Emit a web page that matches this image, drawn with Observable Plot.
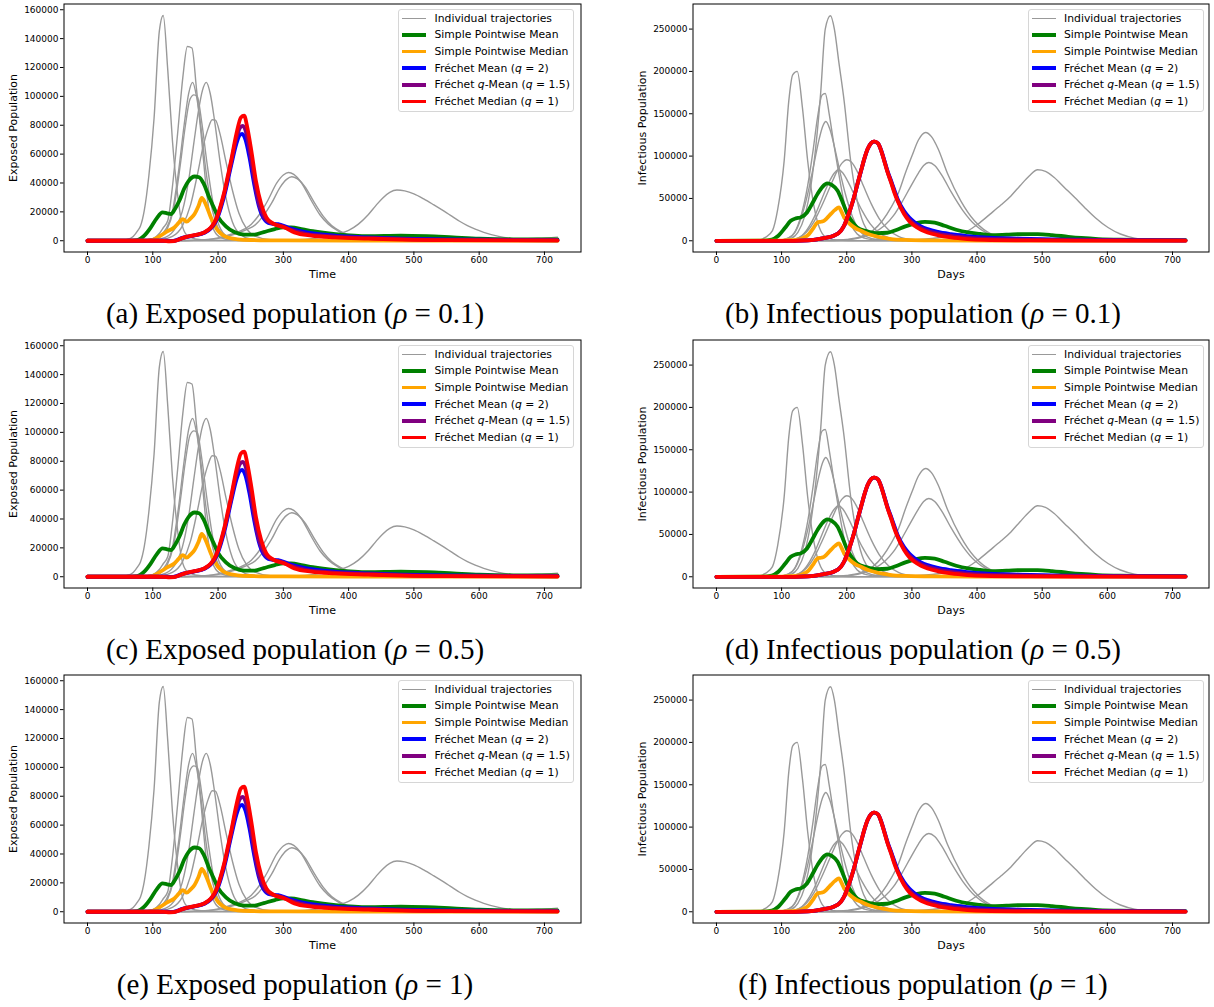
<!DOCTYPE html>
<html><head><meta charset="utf-8">
<script src="https://cdn.jsdelivr.net/npm/d3@7"></script>
<script src="https://cdn.jsdelivr.net/npm/@observablehq/plot@0.6"></script>
<style>
body{margin:0;background:#fff;}
#root{position:relative;width:1214px;height:1007px;overflow:hidden;background:#fff;font-family:"DejaVu Sans",sans-serif;}
#root svg{position:absolute;}
.legend{position:absolute;background:rgba(255,255,255,0.85);border:1px solid #d6d6d6;border-radius:3px;box-sizing:border-box;width:176px;height:103px;padding:0 0 0 3px;font-size:10.8px;color:#000;}
.legend .row{height:16.65px;display:flex;align-items:center;white-space:nowrap;}
.legend .sw{width:24px;margin-right:8.5px;flex:none;}
.caption{position:absolute;font-family:"Liberation Serif",serif;font-size:29px;line-height:29px;transform:translateX(-50%);white-space:nowrap;color:#000;}
</style></head><body><div id="root"></div>
<script>
// ---------- tick labels ----------
const dayTicks = [0, 100, 200, 300, 400, 500, 600, 700];
const exposedTicks = [0, 20000, 40000, 60000, 80000, 100000, 120000, 140000, 160000];
const infectiousTicks = [0, 50000, 100000, 150000, 200000, 250000];

// ---------- legend / captions ----------
const legendLabels = ["Individual trajectories", "Simple Pointwise Mean", "Simple Pointwise Median",
  "Fréchet Mean (<i>q</i> = 2)", "Fréchet <i>q</i>-Mean (<i>q</i> = 1.5)", "Fréchet Median (<i>q</i> = 1)"];
const rhoValues = ["0.1", "0.5", "1"];
const captionLetters = [["a", "b"], ["c", "d"], ["e", "f"]];

// ---------- Exposed population: [day, value] ----------
const exposedIndividual = [
  [[0,0],[50,200],[60,800],[70,3000],[77,7000],[81,10000],[87,21000],[94,45000],[102,85000],[110,145000],[116,156000],[123,118000],[130,70000],[138,32000],[145,11000],[152,4000],[165,1200],[190,300],[260,50],[720,0]],
  [[0,0],[80,300],[100,1500],[110,5000],[116,9000],[123,14000],[130,37000],[138,74000],[146,113000],[153,134500],[160,133500],[167,105000],[174,74000],[184,28000],[194,7000],[205,2000],[220,600],[260,100],[720,0]],
  [[0,0],[90,500],[110,3000],[120,8000],[130,20000],[140,50000],[148,80000],[155,102000],[161,109700],[167,100000],[174,78000],[181,50000],[190,24000],[200,9000],[212,3000],[230,800],[270,100],[720,0]],
  [[0,0],[95,500],[112,3000],[122,8000],[132,22000],[142,52000],[150,80000],[157,98000],[163,101000],[168,100000],[175,82000],[183,54000],[192,27000],[202,10000],[214,3000],[232,700],[270,100],[720,0]],
  [[0,0],[100,400],[120,2500],[135,9000],[145,20000],[155,42000],[163,68000],[170,90000],[176,104000],[182,109700],[188,102000],[195,82000],[203,55000],[212,30000],[222,13000],[235,4000],[250,1200],[280,200],[720,0]],
  [[0,0],[110,500],[130,3000],[145,10000],[158,25000],[168,45000],[177,65000],[185,78000],[191,83800],[196,83500],[203,74000],[212,55000],[222,35000],[232,19000],[244,8000],[258,3000],[280,700],[720,0]],
  [[0,0],[150,200],[180,800],[200,2000],[220,4500],[240,8000],[251,11500],[263,18000],[276,27700],[290,40000],[300,45500],[308,47300],[316,46000],[328,40000],[343,27700],[356,18000],[369,11500],[385,6500],[400,3500],[425,1200],[460,300],[720,0]],
  [[0,0],[155,200],[185,800],[205,2000],[225,4500],[245,8000],[257,11000],[269,17000],[282,26000],[295,37000],[305,42500],[313,44300],[321,43000],[333,37500],[348,26000],[361,17000],[374,10500],[390,6000],[405,3200],[430,1100],[465,300],[720,0]],
  [[0,0],[250,100],[300,400],[340,1300],[370,3200],[385,4800],[400,7200],[415,11500],[430,18000],[442,24500],[452,29500],[463,33500],[474,35100],[486,34500],[500,32500],[515,29000],[530,25000],[545,20800],[558,17000],[570,13500],[582,10500],[594,8000],[607,5800],[630,3000],[656,1300],[685,600],[720,400]],
  [[0,0],[300,100],[500,300],[600,700],[650,1100],[690,1700],[720,2500]]
];
const exposedMean = [[0,0],[60,100],[76,500],[87,3500],[97,9200],[106,15500],[115,19600],[122,19000],[128,18500],[134,22000],[141,28000],[148,36000],[155,41500],[164,44500],[171,44000],[178,39500],[186,30500],[193,23500],[200,16500],[212,10000],[225,6000],[240,4300],[256,4300],[270,6000],[287,8100],[300,9200],[312,9200],[330,7800],[345,6600],[380,4600],[430,3100],[480,3500],[520,3100],[560,2300],[600,1500],[650,1000],[720,900]];
const exposedMedian = [[0,0],[90,100],[100,700],[112,3500],[122,6500],[133,9200],[140,12500],[146,15000],[152,13200],[158,15500],[164,18500],[170,24000],[175,29600],[181,25400],[189,16100],[195,10500],[200,6900],[207,4000],[215,2200],[230,1000],[250,500],[300,200],[400,100],[720,0]];
const exposedFrechetMean = [[0,0],[120,0],[128,-200],[135,200],[145,2000],[164,3700],[179,5500],[189,8500],[195,12000],[200,17000],[210,32000],[220,52000],[228,67000],[233,73000],[237,74000],[242,70000],[248,58000],[255,40000],[262,25000],[270,15500],[280,12000],[292,11500],[307,9200],[328,6500],[379,3500],[430,2300],[482,1500],[550,900],[720,400]];
const exposedFrechetQMean = [[0,0],[120,0],[128,-300],[135,0],[145,1800],[164,3800],[179,5700],[189,9000],[195,12500],[200,18000],[210,33500],[220,54000],[228,71000],[234,78500],[238,79500],[243,75000],[249,61000],[256,41000],[263,25000],[271,16000],[282,12000],[297,10300],[312,7500],[335,4800],[379,2900],[430,1900],[482,1100],[550,600],[720,300]];
const exposedFrechetMedian = [[0,0],[105,0],[117,-150],[126,-400],[133,-300],[140,900],[150,2500],[164,3900],[179,5800],[189,9200],[195,13000],[200,18500],[205,26000],[210,34600],[215,45000],[220,55400],[228,73800],[235,85400],[240,86600],[245,78000],[251,62300],[258,41500],[266,25400],[274,16100],[284,12000],[302,9200],[317,5800],[343,3500],[379,2300],[430,1500],[482,800],[550,400],[720,200]];

// ---------- Infectious population: [day, value] ----------
const infectiousIndividual = [
  [[0,0],[50,200],[65,1000],[75,4000],[86,12000],[94,37000],[104,95000],[111,165000],[117,196000],[124,200000],[132,157000],[140,94500],[150,39400],[160,11800],[170,3500],[185,1000],[220,200],[720,0]],
  [[0,0],[100,500],[115,3000],[125,10000],[135,28000],[145,65000],[153,115000],[160,175000],[167,250000],[175,265700],[181,250000],[188,210000],[196,165000],[206,94500],[216,47200],[226,20000],[236,8000],[250,2500],[270,600],[720,0]],
  [[0,0],[95,500],[110,3000],[120,10000],[130,30000],[140,65000],[148,105000],[155,145000],[162,172000],[167,174000],[173,150000],[180,115000],[188,78000],[196,45000],[206,20000],[216,8000],[230,2500],[250,600],[720,0]],
  [[0,0],[95,500],[110,3000],[122,12000],[132,32000],[142,62000],[150,92000],[157,118000],[163,135000],[168,140900],[174,132000],[182,108000],[190,80000],[198,55000],[208,30000],[218,14000],[230,5000],[250,1200],[720,0]],
  [[0,0],[110,500],[125,3000],[138,10000],[150,23000],[162,42000],[174,63000],[185,82000],[193,92000],[200,95700],[207,93000],[216,82000],[226,64000],[238,43000],[250,26000],[264,13000],[280,5000],[300,1500],[330,300],[720,0]],
  [[0,0],[110,500],[125,3000],[138,12000],[150,28000],[162,50000],[172,68000],[181,80000],[187,83800],[194,80000],[203,68000],[213,52000],[224,35000],[236,20000],[250,9000],[265,3500],[285,1000],[720,0]],
  [[0,0],[180,500],[200,1500],[220,4500],[240,12000],[255,24000],[268,39400],[280,58000],[290,80000],[300,100000],[310,119000],[321,127900],[330,123000],[340,109000],[355,78800],[375,47200],[396,23600],[410,13500],[422,7900],[440,3500],[470,1000],[520,200],[720,0]],
  [[0,0],[180,400],[200,1200],[220,3500],[240,9000],[258,18000],[272,30000],[285,46000],[298,64000],[310,80000],[318,89000],[326,92500],[335,89000],[347,76000],[360,58000],[378,36000],[398,18000],[415,9000],[435,4000],[460,1500],[500,300],[720,0]],
  [[0,0],[250,200],[300,1000],[340,3500],[370,7500],[386,11800],[401,19500],[420,31500],[437,42500],[452,53000],[466,65000],[480,76500],[493,83800],[505,82000],[518,75000],[534,63000],[550,51000],[565,39400],[582,27000],[601,15700],[620,8000],[642,3200],[670,1200],[700,500],[720,300]],
  [[0,0],[300,100],[500,300],[600,600],[660,1000],[700,1500],[720,1800]]
];
const infectiousMean = [[0,0],[70,200],[85,1500],[95,6000],[105,15000],[114,23600],[122,26500],[129,27500],[139,33400],[147,44000],[155,55100],[163,64000],[170,67700],[177,66000],[186,59000],[194,45000],[201,31500],[209,22000],[216,15700],[230,11500],[247,9000],[262,9500],[275,12500],[290,17000],[305,20500],[320,22400],[335,21500],[350,17700],[368,13000],[386,9800],[405,8000],[421,6700],[445,7200],[470,7900],[493,7900],[515,6800],[540,4700],[560,3300],[586,2000],[620,1200],[660,900],[720,700]];
const infectiousMedian = [[0,0],[100,100],[115,700],[129,2000],[136,4500],[142,7900],[148,14000],[155,21600],[160,22500],[165,23600],[170,27000],[176,32000],[182,36500],[188,39400],[192,34000],[196,27500],[206,18900],[214,14500],[222,11800],[232,8300],[242,5900],[255,3600],[268,2000],[290,1000],[330,400],[400,200],[720,100]];
const infectiousFrechetMean = [[0,0],[120,0],[140,500],[152,1500],[165,3200],[180,6000],[191,12000],[196,18000],[201,27500],[206,38500],[211,51000],[216,65500],[222,82500],[227,96500],[232,108000],[237,115000],[242,117000],[248,115000],[253,106500],[258,94000],[263,81500],[268,71000],[273,60000],[278,49500],[288,35000],[296,27500],[304,22000],[314,17000],[324,13800],[340,10500],[360,7900],[385,5500],[411,3900],[440,3000],[463,2400],[500,1800],[550,1200],[620,700],[720,400]];
const infectiousFrechetQMean = [[0,0],[120,0],[140,500],[152,1500],[165,3200],[180,5900],[191,11800],[196,18000],[201,27500],[206,38500],[211,51100],[216,66000],[222,83000],[227,97000],[232,108300],[237,115000],[242,117000],[248,114800],[253,106000],[258,93500],[263,80500],[268,70000],[273,58500],[278,48000],[288,33000],[296,25000],[304,19500],[314,15000],[324,11800],[340,8500],[360,5900],[385,3700],[411,2500],[460,1500],[550,800],[720,300]];
const infectiousFrechetMedian = [[0,0],[120,0],[140,500],[152,1500],[165,3200],[180,5900],[191,11800],[196,18000],[201,27500],[206,38500],[211,51100],[216,66000],[222,83000],[227,97000],[232,108300],[237,115000],[242,117300],[248,115000],[253,106000],[258,93000],[263,80000],[268,69000],[273,57000],[278,47200],[288,31500],[296,23000],[304,17700],[314,13000],[324,9800],[340,6500],[360,3900],[385,2000],[411,1000],[460,500],[550,300],[720,200]];

// ---------- drawing ----------
const colors = ["#999999", "green", "orange", "blue", "purple", "red"];
const root = document.getElementById("root");
const rowTops = [0, 336, 671];

function rows(arr, id) { return arr.map(([t, v]) => ({t, v, id})); }

function makePanel(kind, col, rowTop) {
  const isE = kind === "E";
  const W = col === 0 ? 600 : 607;
  const left = col === 0 ? 0 : 607;
  const indiv = isE ? exposedIndividual : infectiousIndividual;
  const summaries = isE
    ? [exposedMean, exposedMedian, exposedFrechetMean, exposedFrechetQMean, exposedFrechetMedian]
    : [infectiousMean, infectiousMedian, infectiousFrechetMean, infectiousFrechetQMean, infectiousFrechetMedian];
  const grayData = indiv.flatMap((a, i) => rows(a, i));
  const svg = Plot.plot({
    width: W, height: 290,
    marginLeft: col === 0 ? 63.5 : 85.5,
    marginRight: col === 0 ? 19.5 : 5.5,
    marginTop: 3.5, marginBottom: 38.5,
    style: {fontFamily: "DejaVu Sans", fontSize: "9px", color: "black", background: "white", overflow: "visible"},
    x: {domain: [-36, 756]},
    y: {domain: isE ? [-7800, 163975] : [-13250, 279620]},
    marks: [
      Plot.line(grayData, {x: "t", y: "v", z: "id", stroke: colors[0], strokeWidth: 1.4, curve: "monotone-x"}),
      ...summaries.map((s, i) => Plot.line(rows(s, i), {x: "t", y: "v", stroke: colors[i + 1], strokeWidth: 3.8, curve: "monotone-x", strokeLinejoin: "round"})),
      Plot.frame({stroke: "black", strokeWidth: 1}),
      Plot.axisX({ticks: dayTicks, tickSize: 3.5, tickPadding: 1.5, tickFormat: d3.format("d"), label: null}),
      Plot.axisX({ticks: [], tickSize: 0, label: isE ? "Time" : "Days", labelAnchor: "center", labelArrow: "none", labelOffset: 26, fontSize: 11}),
      Plot.axisY({ticks: isE ? exposedTicks : infectiousTicks, tickSize: 3.5, tickPadding: 2, tickFormat: d3.format("d"), label: null}),
      Plot.axisY({ticks: [], tickSize: 0, label: isE ? "Exposed Population" : "Infectious Population", labelAnchor: "center", labelArrow: "none", labelOffset: 55, fontSize: 11})
    ]
  });
  svg.style.left = left + "px";
  svg.style.top = rowTop + "px";
  root.appendChild(svg);

  const lg = document.createElement("div");
  lg.className = "legend";
  lg.style.left = (col === 0 ? 398 : 1027.5) + "px";
  lg.style.top = (rowTop + 9) + "px";
  legendLabels.forEach((lab, i) => {
    const r = document.createElement("div");
    r.className = "row";
    const sw = document.createElement("div");
    sw.className = "sw";
    sw.style.height = (i === 0 ? 1.6 : 3.6) + "px";
    sw.style.background = colors[i];
    const tx = document.createElement("span");
    tx.innerHTML = lab;
    r.appendChild(sw); r.appendChild(tx);
    lg.appendChild(r);
  });
  root.appendChild(lg);
}

rowTops.forEach((top, r) => {
  makePanel("E", 0, top);
  makePanel("I", 1, top);
  ["Exposed population", "Infectious population"].forEach((name, c) => {
    const cap = document.createElement("div");
    cap.className = "caption";
    cap.style.left = (c === 0 ? 295 : 923) + "px";
    cap.style.top = (top + 299) + "px";
    cap.innerHTML = "(" + captionLetters[r][c] + ") " + name + " (<i>ρ</i> = " + rhoValues[r] + ")";
    root.appendChild(cap);
  });
});
</script></body></html>
